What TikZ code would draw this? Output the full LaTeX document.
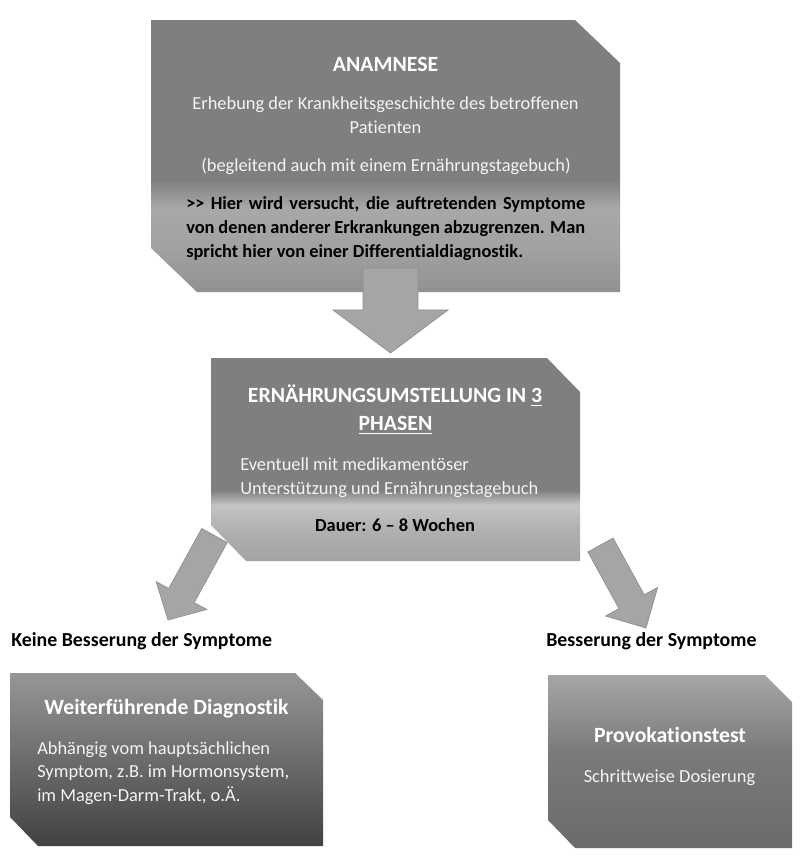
\documentclass[tikz,border=0pt]{standalone}
\usepackage{fontspec}
\setmainfont{Carlito}[Ligatures={TeX,NoCommon}]
\usetikzlibrary{calc}
\definecolor{cA}{HTML}{7F7F7F}
\definecolor{cAl}{HTML}{A8A8A8}
\definecolor{cAb}{HTML}{919191}
\definecolor{cBl}{HTML}{C4C4C4}
\definecolor{cBm}{HTML}{B0B0B0}
\definecolor{cBb}{HTML}{A3A3A3}
\definecolor{cDt}{HTML}{969696}
\definecolor{cDm}{HTML}{6C6C6C}
\definecolor{cDb}{HTML}{424242}
\definecolor{cPt}{HTML}{A6A6A6}
\definecolor{cPm}{HTML}{7A7A7A}
\definecolor{cPb}{HTML}{6B6B6B}
\definecolor{arrfill}{HTML}{A5A5A5}
\definecolor{arrline}{HTML}{8F8F8F}
\definecolor{lighttext}{HTML}{F4F4F4}
\pgfdeclareverticalshading{anashade}{100bp}{color(0bp)=(cAb); color(25bp)=(cAb); color(33bp)=(cAl!70!cAb); color(40.5bp)=(cAl); color(45.6bp)=(cA); color(75bp)=(cA); color(100bp)=(cA)}
\pgfdeclareverticalshading{ernshade}{100bp}{color(0bp)=(cBb); color(25bp)=(cBb); color(32.6bp)=(cBm); color(38.8bp)=(cBl); color(42.5bp)=(cA); color(75bp)=(cA); color(100bp)=(cA)}
\pgfdeclareverticalshading{diagshade}{100bp}{color(0bp)=(cDb); color(25bp)=(cDb); color(50bp)=(cDm); color(75bp)=(cDt); color(100bp)=(cDt)}
\pgfdeclareverticalshading{provshade}{100bp}{color(0bp)=(cPb); color(25bp)=(cPb); color(52.5bp)=(cPm); color(75bp)=(cPt); color(100bp)=(cPt)}
\newcommand\myul[1]{\setbox0\hbox{#1}\rlap{\rule[-2.6pt]{\wd0}{1.1pt}}\box0}
\newcommand\blockarrow[5]{%
  \coordinate (#1b) at ($(#1s)!#3!(#1t)$);
  \draw[blockarr] ($(#1s)!#4!90:(#1t)$) -- ($(#1b)!#4!90:(#1t)$) -- ($(#1b)!#5!90:(#1t)$) -- (#1t)
    -- ($(#1b)!#5!-90:(#1t)$) -- ($(#1b)!#4!-90:(#1t)$) -- ($(#1s)!#4!-90:(#1t)$) -- cycle;}
\tikzset{
  blockarr/.style={fill=arrfill, draw=arrline, line width=0.5pt, line join=miter},
  txt/.style={inner sep=0pt, anchor=base},
  ttl/.style={txt, text=white, font=\fontsize{16.3}{20}\selectfont\bfseries},
  bodyw/.style={txt, text=lighttext, font=\fontsize{13.8}{18}\selectfont},
  bodyb/.style={txt, text=black, font=\fontsize{13.8}{18}\selectfont\bfseries},
  head/.style={txt, text=black, anchor=base west, font=\fontsize{14.9}{18}\selectfont\bfseries},
}
\begin{document}
\begin{tikzpicture}[x=0.75pt, y=-0.75pt]
\useasboundingbox[fill=white] (0,0) rectangle (800,864);
% boxes
\shade[shading=anashade] (151,20) -- (575,20) -- (620,63) -- (620,292) -- (197,292) -- (151,248) -- cycle;
\shade[shading=ernshade] (211,358) -- (547,358) -- (580,392) -- (580,561) -- (246,561) -- (211,525) -- cycle;
\shade[shading=diagshade] (10,673) -- (295,673) -- (323,700) -- (323,846) -- (38,846) -- (10,817) -- cycle;
\shade[shading=provshade] (548,675) -- (765,675) -- (792,702) -- (792,848) -- (575,848) -- (548,820) -- cycle;
% texts box 1
\node[ttl] (anaT) at (385.5,71) {ANAMNESE};
\node[bodyw] (anaL1) at (385.5,109.3) {Erhebung der Krankheitsgeschichte des betroffenen};
\node[bodyw] (anaL2) at (385.5,133.3) {Patienten};
\node[bodyw] (anaL3) at (386,171) {(begleitend auch mit einem Ernährungstagebuch)};
\node[bodyb, anchor=base west] (anaB1) at (186,209) {\makebox[299.25pt][s]{>{}> Hier wird versucht, die auftretenden Symptome}};
\node[bodyb, anchor=base west] (anaB2) at (186,233) {\makebox[299.25pt][s]{von denen anderer Erkrankungen abzugrenzen. Man}};
\node[bodyb, anchor=base west] (anaB3) at (186,257) {spricht hier von einer Differentialdiagnostik.};
% texts box 2
\node[ttl] (ernT1) at (395,402.7) {ERNÄHRUNGSUMSTELLUNG IN \myul{3}};
\node[ttl] (ernT2) at (395.5,430.7) {\myul{PHASEN}};
\node[bodyw, anchor=base west] (ernL1) at (240,470) {Eventuell mit medikamentöser};
\node[bodyw, anchor=base west] (ernL2) at (240,494) {Unterstützung und Ernährungstagebuch};
\node[bodyb] (ernD) at (395,531.7) {Dauer: 6 – 8 Wochen};
% headings
\node[head] (hNo) at (11,646.7) {Keine Besserung der Symptome};
\node[head] (hYes) at (546,646.7) {Besserung der Symptome};
% box 4
\node[ttl] (diaT) at (166.5,714) {Weiterführende Diagnostik};
\node[bodyw, anchor=base west] (diaL1) at (37,754) {Abhängig vom hauptsächlichen};
\node[bodyw, anchor=base west] (diaL2) at (37,777.7) {Symptom, z.B. im Hormonsystem,};
\node[bodyw, anchor=base west] (diaL3) at (37,801.7) {im Magen-Darm-Trakt, o.Ä.};
% box 5
\node[ttl] (proT) at (670,742.7) {Provokationstest};
\node[bodyw] (proL1) at (669.5,782.7) {Schrittweise Dosierung};
% arrows
\coordinate (arrAs) at (390.5,268);
\coordinate (arrAt) at (390.5,353);
\blockarrow{arrA}{}{0.494}{20.6pt}{43.1pt}
\coordinate (arrBs) at (214.5,535.5);
\coordinate (arrBt) at (168,620);
\blockarrow{arrB}{}{0.71}{10.95pt}{21.75pt}
\coordinate (arrCs) at (600.5,545);
\coordinate (arrCt) at (646,628);
\blockarrow{arrC}{}{0.683}{10.8pt}{22.3pt}
\end{tikzpicture}
\end{document}
